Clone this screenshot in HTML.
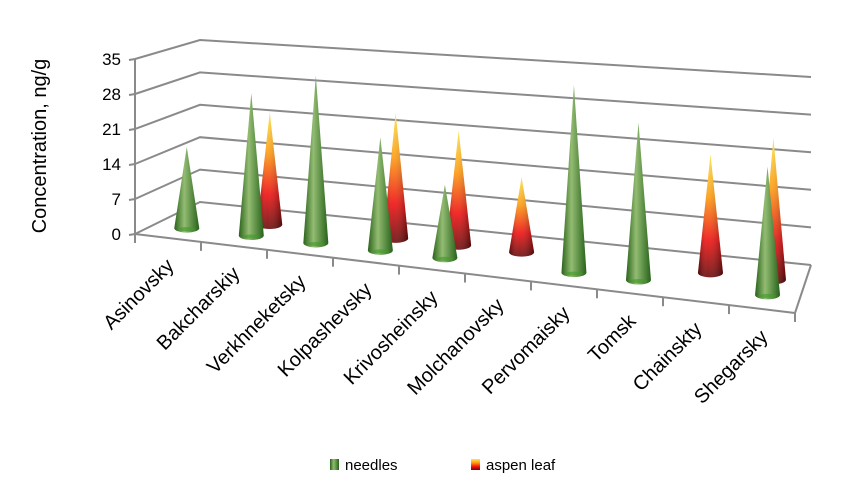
<!DOCTYPE html>
<html><head><meta charset="utf-8"><style>
body{margin:0;background:#fff}
svg{display:block;font-family:"Liberation Sans",sans-serif}
</style></head><body>
<svg id="chart" width="850" height="500" viewBox="0 0 850 500">
<defs>
<linearGradient id="gGreen" x1="0" y1="0" x2="1" y2="0">
<stop offset="0" stop-color="#2a621a"/><stop offset="0.4" stop-color="#93bc72"/><stop offset="1" stop-color="#27621a"/></linearGradient>
<linearGradient id="gAspen" x1="0" y1="0" x2="0" y2="1">
<stop offset="0" stop-color="#ffe84a"/><stop offset="0.35" stop-color="#ff9a10"/><stop offset="0.7" stop-color="#f21010"/><stop offset="1" stop-color="#6a0a0a"/></linearGradient>
<linearGradient id="gAspenH" x1="0" y1="0" x2="1" y2="0">
<stop offset="0" stop-color="#000" stop-opacity="0.35"/><stop offset="0.4" stop-color="#fff" stop-opacity="0.1"/><stop offset="1" stop-color="#000" stop-opacity="0.35"/></linearGradient>
</defs>
<g id="grid"></g>
<g id="cones"></g>
<g id="labels"></g>
<text transform="translate(46,146) rotate(-90)" text-anchor="middle" font-size="20" fill="#000">Concentration, ng/g</text>
<g>
<rect x="330" y="459" width="9" height="11" fill="url(#gGreen)"/>
<text x="345" y="470" font-size="15">needles</text>
<rect x="471" y="459" width="9" height="11" fill="url(#gAspen)"/>
<text x="486" y="470" font-size="15">aspen leaf</text>
</g>
</svg>
<script>
const categories=["Asinovsky","Bakcharskiy","Verkhneketsky","Kolpashevsky","Krivosheinsky","Molchanovsky","Pervomaisky","Tomsk","Chainskty","Shegarsky"];
const needles=[16.5,28.5,33,22,14,0,35,29,0,23];
const aspen=[0,23,0,25,22.5,14.5,0,0,22,26];
const yTicks=[0,7,14,21,28,35];
const yMax=35;
const NS="http://www.w3.org/2000/svg";
const F0=[135,234],F1=[795,313],B0=[200,202],B1=[811,265];
const HF0=175,HF1=200,HB0=162,HB1=188;
function lerp(a,b,t){return a+(b-a)*t;}
function proj(u,d,v){
  const fx=lerp(F0[0],F1[0],u),fy=lerp(F0[1],F1[1],u);
  const bx=lerp(B0[0],B1[0],u),by=lerp(B0[1],B1[1],u);
  const hs=lerp(lerp(HF0,HF1,u),lerp(HB0,HB1,u),d);
  return [lerp(fx,bx,d),lerp(fy,by,d)-v/yMax*hs];
}
function mk(tag,attrs,parent){const e=document.createElementNS(NS,tag);for(const k in attrs)e.setAttribute(k,attrs[k]);parent.appendChild(e);return e;}
const grid=document.getElementById('grid');
const lc="#8a8a8a";
yTicks.forEach(t=>{
  const a=proj(0,0,t),b=proj(0,1,t),c=proj(1,1,t);
  const l=mk('polyline',{points:`${a} ${b} ${c}`,fill:'none',stroke:lc,'stroke-width':2},grid);
  
  
  const tx=mk('text',{x:a[0]-14,y:a[1]+6,'text-anchor':'end','font-size':17},grid);
  tx.textContent=t;
  
  
  const tk=mk('line',{x1:a[0]-6,y1:a[1]+1,x2:a[0],y2:a[1],stroke:lc,'stroke-width':2},grid);
  
  
});
{
  const a=proj(0,0,0),b=proj(0,0,yMax);
  const ax=mk('line',{x1:a[0],y1:a[1],x2:b[0],y2:b[1],stroke:lc,'stroke-width':2},grid);
  
  
  const f=mk('polyline',{points:`${proj(0,0,0)} ${proj(1,0,0)} ${proj(1,1,0)}`,fill:'none',stroke:lc,'stroke-width':2},grid);
  
  
  for(let i=0;i<=categories.length;i++){
    const p=proj(i/categories.length,0,0);
    const t=mk('line',{x1:p[0],y1:p[1],x2:p[0],y2:p[1]+9,stroke:lc,'stroke-width':2},grid);
    
    
  }
}
const cones=document.getElementById('cones');
function cone(i,v,d,kind){
  if(v<=0)return;
  const u=(i+0.5)/categories.length;
  const b=proj(u,d,0),t=proj(u,d,v);
  const r=12.5,ry=4.5;
  const g=mk('g',{},cones);
  
  
  const fill=kind==='needles'?'url(#gGreen)':'url(#gAspen)';
  const pth=`M${b[0]-r},${b[1]} L${t[0]},${t[1]} L${b[0]+r},${b[1]} A${r},${ry} 0 0 1 ${b[0]-r},${b[1]} Z`;
  mk('path',{d:pth,fill:fill},g);
  if(kind!=='needles')mk('path',{d:pth,fill:'url(#gAspenH)'},g);
  else mk('ellipse',{cx:b[0],cy:b[1]+1,rx:r*0.7,ry:2,fill:'#3f9a2a',opacity:0.6},g);
}
aspen.forEach((v,i)=>cone(i,v,0.62,'aspen'));
needles.forEach((v,i)=>cone(i,v,0.3,'needles'));
const labels=document.getElementById('labels');
categories.forEach((c,i)=>{
  const p=proj((i+0.5)/categories.length,0,0);
  const x=p[0]+7,y=p[1]+29;
  const t=mk('text',{x:x,y:y,'text-anchor':'end','font-size':20,transform:`rotate(-45 ${x} ${y})`},labels);
  t.textContent=c;
  
  
});
</script>
</body></html>
